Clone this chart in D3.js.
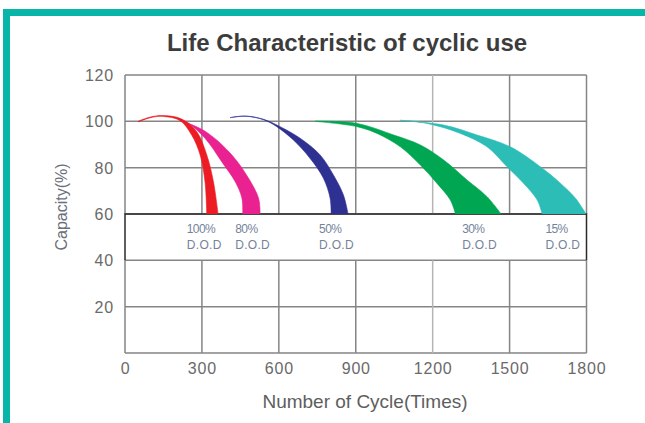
<!DOCTYPE html>
<html><head><meta charset="utf-8">
<script src="https://cdn.jsdelivr.net/npm/d3@7"></script>
<style>html,body{margin:0;padding:0;background:#fff}svg{display:block}</style>
</head><body><svg id="c" width="645" height="423"></svg>
<script>
// ---- data ----
const cycleTicks = [0, 300, 600, 900, 1200, 1500, 1800];
const capacityTicks = [0, 20, 40, 60, 80, 100, 120];
const dodLabels = ["100%", "80%", "50%", "30%", "15%"];
const labelCycles = [241, 430, 757, 1315, 1640];
// each band: inner (left) edge and outer (right) edge, [cycle, capacity %]
const dod100Inner = [[52,99.8],[100,101.6],[150,102.1],[215,100.3],[260,94.1],[293,85.5],[312,73.9],[319,60]];
const dod100Outer = [[52,100.1],[100,101.9],[150,102.5],[221,101.0],[280,95.5],[319,85.5],[345,73.9],[363,60]];
const dod80Inner = [[215,100.3],[247,99.1],[312,92.7],[377,82.6],[430,73.9],[456,66.8],[459,60]];
const dod80Outer = [[215,100.5],[260,98.6],[325,94.8],[417,85.5],[482,75.4],[521,66.8],[527,60]];
const dod50Inner = [[410,101.6],[470,102.2],[540,100.7],[592,97.7],[657,91.9],[722,84],[774,75.4],[800,66.8],[804,60]];
const dod50Outer = [[410,101.6],[470,102.3],[540,100.9],[605,97.7],[683,92.7],[761,85.5],[813,76.8],[852,68.2],[870,60]];
const dod30Inner = [[742,100],[905,97.7],[983,94.8],[1074,89],[1152,81.1],[1217,73.2],[1269,66],[1289,60]];
const dod30Outer = [[742,100.1],[905,99.1],[1048,94.1],[1152,89.8],[1243,83.3],[1334,74.7],[1412,67.5],[1467,60]];
const dod15Inner = [[1074,100.4],[1178,99.1],[1308,94.8],[1412,89],[1490,80.4],[1555,73.2],[1608,66],[1627,60]];
const dod15Outer = [[1074,100.5],[1243,98.4],[1373,94.1],[1503,89],[1620,80.4],[1699,73.2],[1757,66.8],[1798,60]];

const bands = [
  {inner: dod15Inner, outer: dod15Outer, color: "#2dbdb7"},
  {inner: dod30Inner, outer: dod30Outer, color: "#00a651"},
  {inner: dod50Inner, outer: dod50Outer, color: "#2e3192"},
  {inner: dod80Inner, outer: dod80Outer, color: "#ea2190"},
  {inner: dod100Inner, outer: dod100Outer, color: "#ed1c24"}
];

// ---- drawing ----
const svg = d3.select("#c");
const x = d3.scaleLinear().domain([0, 1800]).range([125, 586.5]);
const y = d3.scaleLinear().domain([0, 120]).range([353, 75]);
const font = "'Liberation Sans', Arial, sans-serif";

// teal frame
svg.append("rect").attr("x", 3).attr("y", 9).attr("width", 642).attr("height", 7).attr("fill", "#07b5a9");
svg.append("rect").attr("x", 3).attr("y", 9).attr("width", 7).attr("height", 414).attr("fill", "#07b5a9");

// title
svg.append("text").attr("x", 347).attr("y", 51).attr("text-anchor", "middle")
  .attr("font-family", font).attr("font-weight", "bold").attr("font-size", 24)
  .attr("fill", "#3c3c3c").text("Life Characteristic of cyclic use");

const grid = svg.append("g");
// horizontal grid
grid.selectAll("line.h").data(capacityTicks).join("line")
  .attr("x1", x(0)).attr("x2", x(1800))
  .attr("y1", d => y(d)).attr("y2", d => y(d))
  .attr("stroke", "#858585").attr("stroke-width", 1.5);
// vertical grid, upper part and lower part
[[60, 120], [0, 40]].forEach(([a, b]) => {
  grid.selectAll(null).data(cycleTicks).join("line")
    .attr("x1", d => x(d)).attr("x2", d => x(d))
    .attr("y1", y(a)).attr("y2", y(b))
    .attr("stroke", d => d === 1200 ? "#b5b5b5" : "#858585").attr("stroke-width", 1.5);
});
// label box 40-60
grid.append("path")
  .attr("d", `M${x(0)},${y(40)}V${y(60)}H${x(1800)}V${y(40)}`)
  .attr("fill", "none").attr("stroke", "#2a2a2a").attr("stroke-width", 1.5);

// bands
const clip = svg.append("clipPath").attr("id", "clip");
clip.append("rect").attr("x", x(0)).attr("y", y(120)).attr("width", x(1800) - x(0) + 1).attr("height", y(60) - y(120));
const line = d3.line().x(d => x(d[0])).y(d => y(d[1])).curve(d3.curveCatmullRom.alpha(0.5));
svg.append("g").attr("clip-path", "url(#clip)")
  .selectAll("path").data(bands).join("path")
  .attr("d", b => line(b.inner) + line(b.outer.slice().reverse()).replace(/^M/, "L") + "Z")
  .attr("fill", b => b.color).attr("stroke", b => b.color).attr("stroke-width", 0.6);

// DOD labels
const lab = svg.append("g").attr("font-family", font).attr("fill", "#74839a").attr("font-size", 12);
lab.selectAll("text.p").data(dodLabels).join("text").attr("class", "p")
  .attr("x", (d, i) => x(labelCycles[i])).attr("y", y(51.8))
  .attr("letter-spacing", -0.6).text(d => d);
lab.selectAll("text.d").data(dodLabels).join("text").attr("class", "d")
  .attr("x", (d, i) => x(labelCycles[i])).attr("y", y(44.9))
  .attr("letter-spacing", 0.3).text("D.O.D");

// tick labels
svg.append("g").selectAll("text").data(cycleTicks).join("text")
  .attr("x", d => x(d) + 0.5).attr("y", 374).attr("text-anchor", "middle")
  .attr("font-family", font).attr("font-size", 16).attr("letter-spacing", 0.8)
  .attr("fill", "#6a6a6a").text(d => d);
svg.append("g").selectAll("text").data(capacityTicks.filter(d => d > 0)).join("text")
  .attr("x", 114).attr("y", d => y(d) + 6).attr("text-anchor", "end")
  .attr("font-family", font).attr("font-size", 16).attr("letter-spacing", 0.8)
  .attr("fill", "#6a6a6a").text(d => d);

// axis titles
svg.append("text").attr("x", 365).attr("y", 408).attr("text-anchor", "middle")
  .attr("font-family", font).attr("font-size", 19).attr("fill", "#5e5e5e")
  .text("Number of Cycle(Times)");
svg.append("text").attr("transform", "translate(67,207) rotate(-90)").attr("text-anchor", "middle")
  .attr("font-family", font).attr("font-size", 16).attr("fill", "#6a6f7a")
  .text("Capacity(%)");
</script></body></html>
